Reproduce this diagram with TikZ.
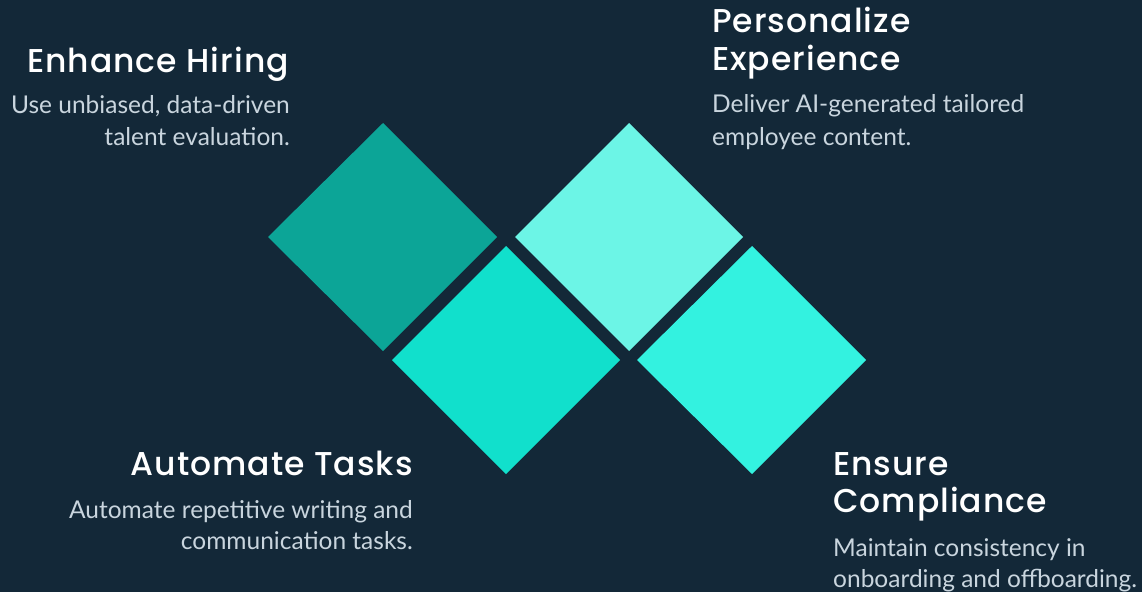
\documentclass[tikz,border=0pt]{standalone}
\usepackage{fontspec}
\setmainfont{Lato}
\newfontfamily\titlefont{Poppins Medium}[LetterSpace=3]
\newfontfamily\bodyfont{Lato}
\definecolor{bg}{HTML}{132838}
\definecolor{dA}{HTML}{0CA597}
\definecolor{dB}{HTML}{11E0CC}
\definecolor{dC}{HTML}{6CF5E6}
\definecolor{dD}{HTML}{33F2E0}
\definecolor{bodygray}{HTML}{C9D5DE}
\tikzset{
  ttl/.style={inner sep=0pt, text=white, font=\titlefont\fontsize{33}{38}\selectfont},
  bdy/.style={inner sep=0pt, text=bodygray, font=\bodyfont\fontsize{24.5}{32}\selectfont},
}
\begin{document}
\begin{tikzpicture}[x=1pt,y=-1pt]
\fill[bg] (0,0) rectangle (1142,592);
\useasboundingbox (0,0) rectangle (1142,592);
% diamonds
\fill[dA] (268,237) -- (383,123) -- (497,237) -- (383,351) -- cycle;
\fill[dB] (392,360) -- (506,246) -- (620,360) -- (506,474) -- cycle;
\fill[dC] (515,237) -- (629,123) -- (743,237) -- (629,351) -- cycle;
\fill[dD] (637,360) -- (752,246) -- (866,360) -- (752,474) -- cycle;
% Enhance Hiring
\node[ttl, anchor=base east] (t1) at (289,72) {Enhance Hiring};
\node[bdy, anchor=base east] (b1a) at (290,113) {Use unbiased, data-driven};
\node[bdy, anchor=base east] (b1b) at (290,145) {talent evaluation.};
% Personalize Experience
\node[ttl, anchor=base west] (t2a) at (712,32) {Personalize};
\node[ttl, anchor=base west] (t2b) at (712,70) {Experience};
\node[bdy, anchor=base west] (b2a) at (712,112) {Deliver AI-generated tailored};
\node[bdy, anchor=base west] (b2b) at (712,145) {employee content.};
% Automate Tasks
\node[ttl, anchor=base east] (t3) at (413,475) {Automate Tasks};
\node[bdy, anchor=base east] (b3a) at (413,518) {Automate repetitive writing and};
\node[bdy, anchor=base east] (b3b) at (413,549) {communication tasks.};
% Ensure Compliance
\node[ttl, anchor=base west] (t4a) at (833,475) {Ensure};
\node[ttl, anchor=base west] (t4b) at (833,512) {Compliance};
\node[bdy, anchor=base west] (b4a) at (833,556) {Maintain consistency in};
\node[bdy, anchor=base west] (b4b) at (833,587) {onboarding and offboarding.};
\end{tikzpicture}
\end{document}
